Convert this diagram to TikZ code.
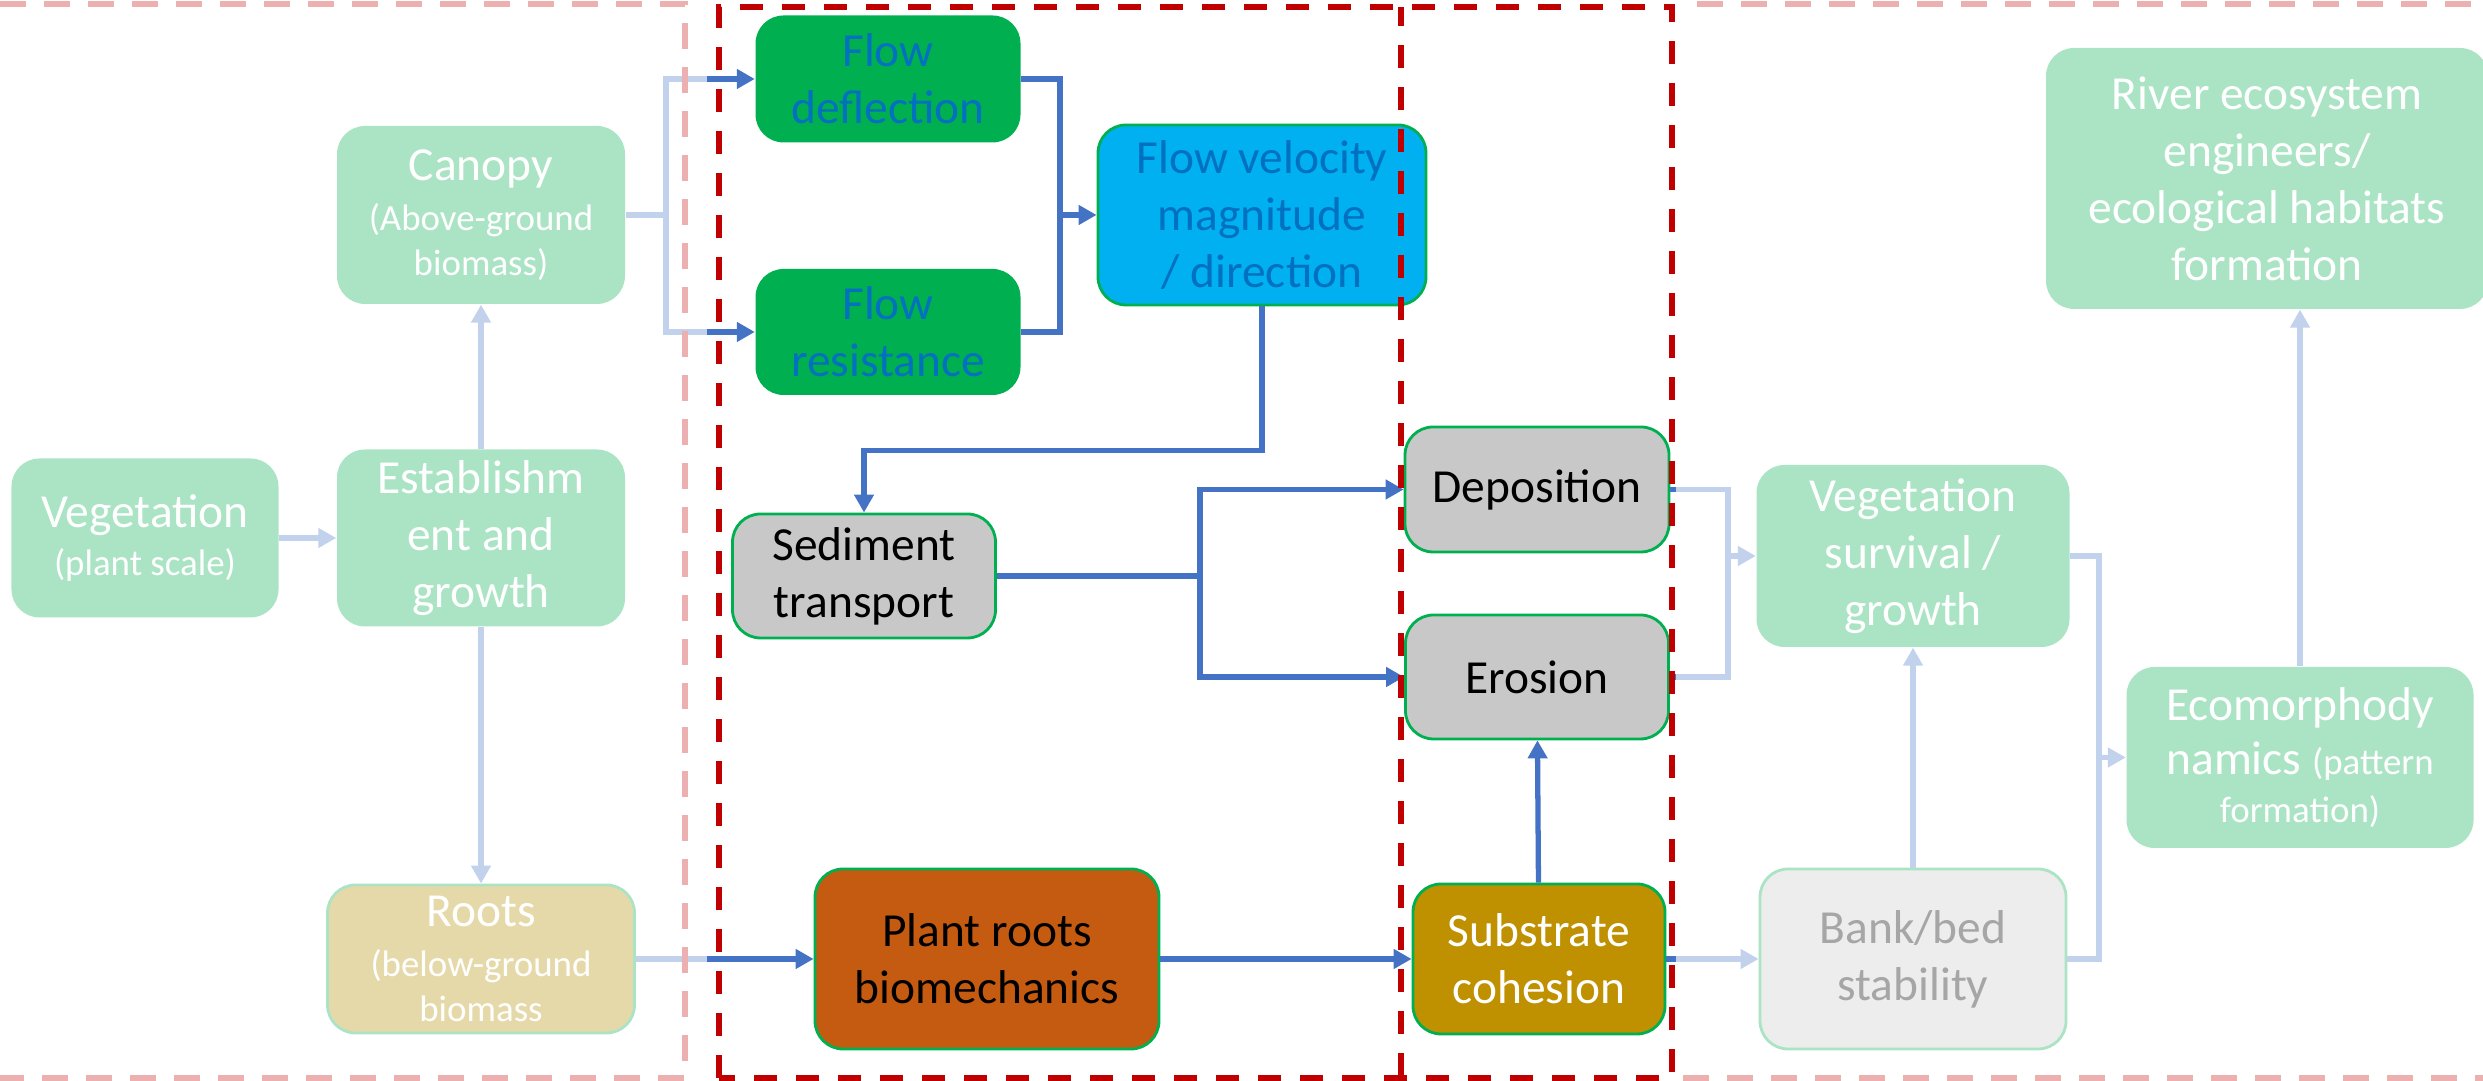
\documentclass[tikz,border=0pt]{standalone}
\usepackage{fontspec}
\setmainfont{Carlito}
\usepackage{tikz}
\usetikzlibrary{
    positioning,
    arrows.meta,
    calc
}
\definecolor{VegGreen}{RGB}{171,228,197}
\definecolor{RootSand}{RGB}{230,217,169}
\definecolor{FlowGreen}{RGB}{0,176,80}
\definecolor{FlowText}{RGB}{0,112,192}
\definecolor{FlowCyan}{RGB}{0,176,240}
\definecolor{SedGray}{RGB}{200,200,200}
\definecolor{RootBrown}{RGB}{197,90,17}
\definecolor{SoilGold}{RGB}{191,144,0}
\definecolor{BankGray}{RGB}{237,237,237}
\definecolor{BankText}{RGB}{166,166,166}
\definecolor{LinkDark}{RGB}{68,114,196}
\definecolor{LinkLight}{RGB}{194,209,236}
\definecolor{FrameRed}{RGB}{192,0,0}
\definecolor{FramePink}{RGB}{236,176,176}

\newcommand{\subtxt}{\fontsize{10.5}{12.8}\selectfont}

\begin{document}
\begin{tikzpicture}[
                    x=1cm, y=1cm,
                    font=\fontsize{13.5}{16.2}\selectfont,
                    every node/.style={inner sep=1pt, align=center},
                    vegbox/.style={fill=VegGreen, text=white, rounded corners=0.28cm},
                    flowbox/.style={fill=FlowGreen, text=FlowText, rounded corners=0.28cm},
                    sedbox/.style={draw=FlowGreen, line width=0.8pt, rounded corners=0.28cm},
                    seglight/.style={LinkLight, line width=1.5pt},
                    segdark/.style={LinkDark, line width=1.5pt},
                    lnklight/.style={seglight, -{Triangle[length=0.18cm,width=0.19cm]}},
                    lnkdark/.style={segdark, -{Triangle[length=0.18cm,width=0.19cm]}},
                    pinkdash/.style={FramePink, line width=1.7pt, dash pattern=on 0.26cm off 0.18cm},
                    reddash/.style={FrameRed, line width=1.7pt, dash pattern=on 0.23cm off 0.19cm},
                ]
                  \useasboundingbox (0,0) rectangle (24.83,10.81);
                  \def\darkL{7.07}
                  \def\darkR{16.76}

                  % ---- Plant scale (left) ----
                  \node[vegbox, minimum width=2.67cm, minimum height=1.59cm] (veg) at (1.45,5.43)
                    {Vegetation\\[-2.5pt]{\subtxt (plant scale)}};
                  \node[vegbox, minimum width=2.88cm, minimum height=1.77cm] (estab) at (4.81,5.43)
                    {Establishm\\ent and\\growth};
                  \node[vegbox, minimum width=2.88cm, minimum height=1.78cm] (canopy) at (4.81,8.66)
                    {Canopy\\[-2pt]{\subtxt (Above-ground}\\[-3.4pt]{\subtxt biomass)}};
                  \node[fill=RootSand, draw=VegGreen, line width=0.8pt, text=white, rounded corners=0.28cm,
                        minimum width=3.07cm, minimum height=1.48cm] (roots) at (4.81,1.22)
                    {Roots\\[-2pt]{\subtxt (below-ground}\\[-3.2pt]{\subtxt biomass}};

                  % ---- Flow processes ----
                  \node[flowbox, minimum width=2.65cm, minimum height=1.27cm] (defl) at (8.88,10.02)
                    {Flow\\deflection};
                  \node[flowbox, minimum width=2.65cm, minimum height=1.26cm] (resist) at (8.88,7.49)
                    {Flow\\resistance};
                  \node[sedbox, fill=FlowCyan, text=FlowText, minimum width=3.28cm, minimum height=1.8cm] (vel) at (12.62,8.66)
                    {Flow velocity\\magnitude\\/ direction};

                  % ---- Sediment processes ----
                  \node[sedbox, fill=SedGray, minimum width=2.63cm, minimum height=1.24cm] (sed) at (8.64,5.05)
                    {Sediment\\transport};
                  \node[sedbox, fill=SedGray, minimum width=2.64cm, minimum height=1.25cm] (depos) at (15.37,5.915)
                    {Deposition};
                  \node[sedbox, fill=SedGray, minimum width=2.63cm, minimum height=1.24cm] (eros) at (15.37,4.04)
                    {Erosion};
                  \node[sedbox, fill=RootBrown, minimum width=3.44cm, minimum height=1.8cm] (plroots) at (9.87,1.22)
                    {Plant roots\\biomechanics};
                  \node[sedbox, fill=SoilGold, text=white, minimum width=2.52cm, minimum height=1.5cm] (subs) at (15.39,1.22)
                    {Substrate\\cohesion};

                  % ---- Feedbacks (right) ----
                  \node[vegbox, minimum width=3.13cm, minimum height=1.82cm] (surv) at (19.13,5.25)
                    {Vegetation\\survival /\\growth};
                  \node[fill=BankGray, draw=VegGreen, line width=0.8pt, text=BankText, rounded corners=0.28cm,
                        minimum width=3.06cm, minimum height=1.8cm] (bank) at (19.13,1.22)
                    {Bank/bed\\stability};
                  \node[vegbox, minimum width=3.47cm, minimum height=1.81cm] (ecom) at (23.0,3.235)
                    {Ecomorphody\\[-1pt]namics {\subtxt (pattern}\\[-2.5pt]{\subtxt formation)}};
                  \node[vegbox, minimum width=4.42cm, minimum height=2.61cm] (river) at (22.67,9.025)
                    {River ecosystem\\engineers/\\ecological habitats\\formation};

                  % Plant scale links
                  \draw[lnklight] (veg) -- (estab);
                  \draw[lnklight] (estab) -- (canopy);
                  \draw[lnklight] (estab) -- (roots);

                  % Canopy -> deflection / resistance
                  \coordinate (cJoin) at (6.66,8.66);
                  \coordinate (dIn) at (\darkL,10.02);
                  \coordinate (rIn) at (\darkL,7.49);
                  \draw[seglight] (canopy.east) -- (cJoin) |- (dIn);
                  \draw[seglight] (cJoin) |- (rIn);
                  \draw[lnkdark] (dIn) -- (defl.west);
                  \draw[lnkdark] (rIn) -- (resist.west);

                  % Deflection / resistance -> velocity -> sediment
                  \coordinate (fJoin) at (10.6,8.66);
                  \draw[segdark] (defl.east) -| (fJoin) |- (resist.east);
                  \draw[lnkdark] (fJoin) -- (vel.west);
                  \draw[lnkdark] (vel.south) -- ++(0,-1.44) -| (sed.north);

                  % Sediment -> deposition / erosion
                  \coordinate (sJoin) at (12.0,5.05);
                  \draw[segdark] (sed.east) -- (sJoin);
                  \draw[lnkdark] (sJoin) |- (depos.west);
                  \draw[lnkdark] (sJoin) |- (eros.west);

                  % Roots -> biomechanics -> cohesion -> erosion
                  \coordinate (rtIn) at (\darkL,1.22);
                  \draw[seglight] (roots.east) -- (rtIn);
                  \draw[lnkdark] (rtIn) -- (plroots.west);
                  \draw[lnkdark] (plroots) -- (subs);
                  \draw[lnkdark] (subs) -- (eros);

                  % Deposition / erosion -> survival
                  \coordinate (dpOut) at (\darkR,5.915);
                  \coordinate (erOut) at (\darkR,4.04);
                  \coordinate (svJoin) at (17.28,5.25);
                  \draw[segdark] (depos.east) -- (dpOut);
                  \draw[segdark] (eros.east) -- (erOut);
                  \draw[seglight] (dpOut) -| (svJoin) |- (erOut);
                  \draw[lnklight] (svJoin) -- (surv.west);

                  % Cohesion -> bank stability -> survival
                  \coordinate (sbOut) at (\darkR,1.22);
                  \draw[segdark] (subs.east) -- (sbOut);
                  \draw[lnklight] (sbOut) -- (bank.west);
                  \draw[lnklight] (bank) -- (surv);

                  % Survival / bank -> ecomorphodynamics -> river
                  \coordinate (ecJoin) at (20.99,3.235);
                  \draw[seglight] (surv.east) -| (ecJoin) |- (bank.east);
                  \draw[lnklight] (ecJoin) -- (ecom.west);
                  \draw[lnklight] (ecom.north) -- (ecom.north |- river.south);

                  % Frames
                  \draw[pinkdash] (0,10.77) -- (6.85,10.77) -- (6.85,0.03) -- (0,0.03);
                  \draw[pinkdash] (16.97,10.77) -- (24.83,10.77);
                  \draw[pinkdash] (16.83,0.03) -- (24.83,0.03);
                  \draw[reddash] (7.19,0.03) rectangle (16.72,10.74);
                  \draw[reddash] (14.01,0.05) -- (14.01,10.74);
                \end{tikzpicture}
\end{document}
